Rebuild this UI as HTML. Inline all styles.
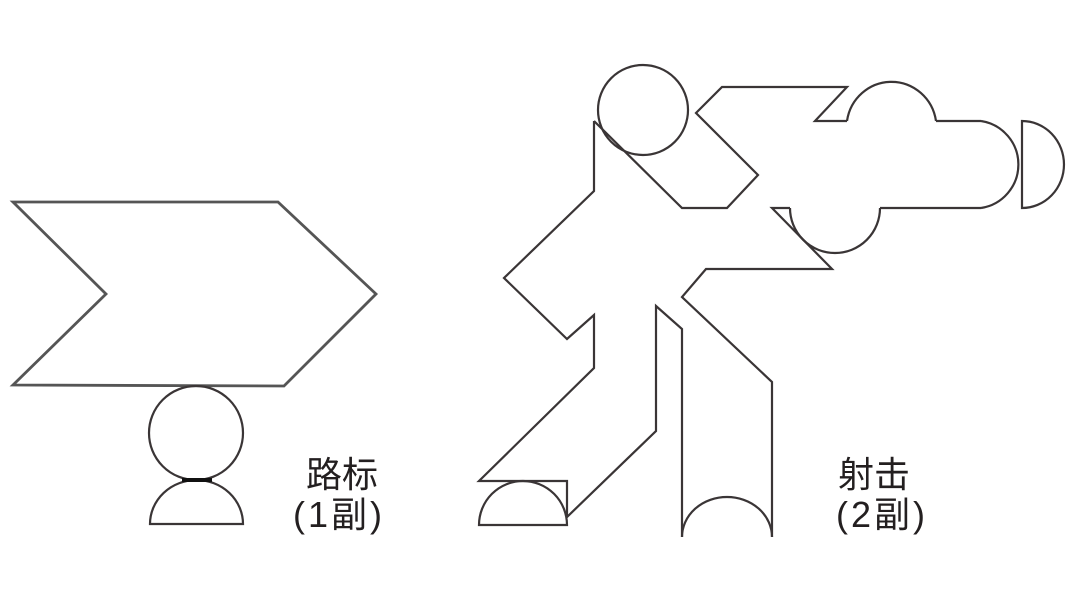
<!DOCTYPE html>
<html><head><meta charset="utf-8"><style>
html,body{margin:0;padding:0;background:#fff;}
svg{display:block}
text{font-family:"Liberation Sans","Noto Sans CJK SC",sans-serif;font-size:34px;fill:#231f20}
</style></head><body>
<svg width="1080" height="613" viewBox="0 0 1080 613" xmlns="http://www.w3.org/2000/svg">
<g fill="none" stroke="#3a3536" stroke-width="2.2" stroke-linejoin="miter">
<polygon points="13,202 278,202 376,294 284,386 13,385 106,294" stroke="#555" stroke-width="2.8"/>
<circle cx="196" cy="433" r="47"/>
<path d="M150,524 A46.5,44 0 0 1 243,524 Z"/>
<line x1="182" y1="480" x2="212" y2="480" stroke="#111" stroke-width="4"/>
<circle cx="643" cy="110" r="45"/>
<polyline points="594,121 594,191 504,278 567,339 594,315 594,368 479,481 567,481 567,517 656,431 656,306 682,329 682,537"/>
<path d="M682,537 A45,40 0 0 1 772,537"/>
<polyline points="772,537 772,382 682,297 706,269 832,269 772,208 790,208"/>
<path d="M790,208 A45,45 0 0 0 880,208"/>
<polyline points="880,208 981,208"/>
<path d="M981,208 A44,44 0 0 0 981,121"/>
<polyline points="981,121 936,121"/>
<path d="M936,121 A45,46 0 0 0 847,121"/>
<polyline points="847,121 815,121 847,87 722,87 696,113 758,175 727,208 682,208 594,121"/>
<path d="M1022,121 L1022,208 A42,43.5 0 0 0 1022,121 Z"/>
<path d="M479,525 A44,44 0 0 1 567,525 Z"/>
</g>
<text x="306" y="487" style="font-size:36px">路标</text>
<text x="293" y="527" style="font-size:36px;letter-spacing:3px">(1副)</text>
<text x="838" y="487" style="font-size:36px">射击</text>
<text x="836" y="527" style="font-size:36px;letter-spacing:3px">(2副)</text>
</svg>
</body></html>
